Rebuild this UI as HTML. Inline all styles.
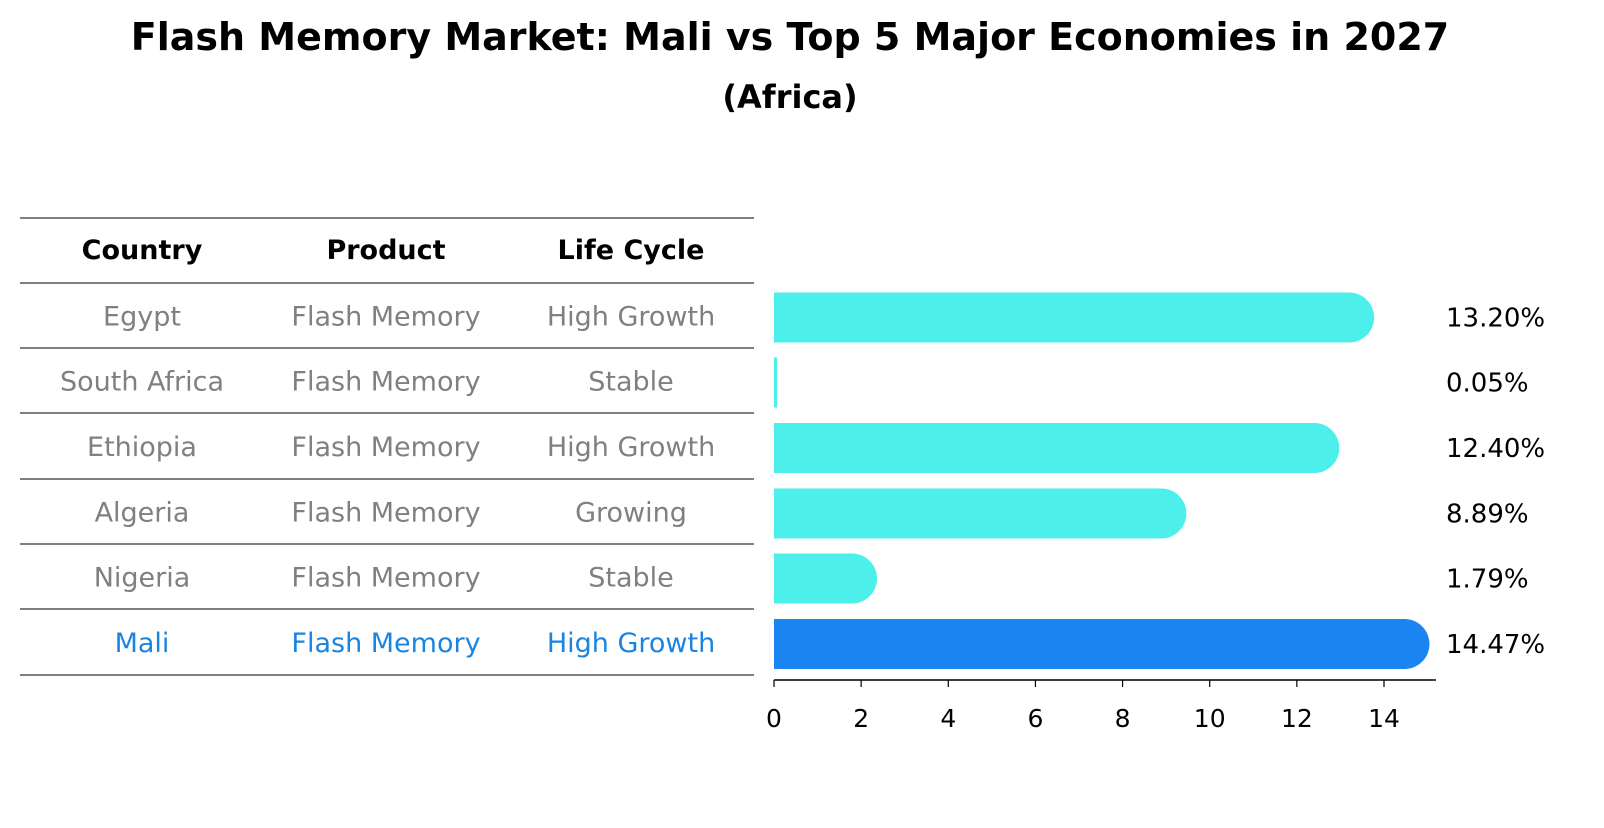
<!DOCTYPE html>
<html><head><meta charset="utf-8"><style>
body{margin:0;background:#fff;font-family:"Liberation Sans","DejaVu Sans",sans-serif;}
svg text{font-family:"DejaVu Sans","Liberation Sans",sans-serif;}
</style></head><body>
<svg id="c" width="1604" height="823" xmlns="http://www.w3.org/2000/svg">
<text x="790" y="50" text-anchor="middle" font-size="38" font-weight="bold">Flash Memory Market: Mali vs Top 5 Major Economies in 2027</text>
<text x="790" y="108" text-anchor="middle" font-size="32" font-weight="bold">(Africa)</text>
<g id="tbl"></g>
<g id="bars"></g>
</svg>
<script>
const countries=["Egypt","South Africa","Ethiopia","Algeria","Nigeria","Mali"];
const products=["Flash Memory","Flash Memory","Flash Memory","Flash Memory","Flash Memory","Flash Memory"];
const cycles=["High Growth","Stable","High Growth","Growing","Stable","High Growth"];
const values=[13.20,0.05,12.40,8.89,1.79,14.47];
const ticks=[0,2,4,6,8,10,12,14];
const NS="http://www.w3.org/2000/svg";
function mk(t,a,p){const e=document.createElementNS(NS,t);for(const k in a)e.setAttribute(k,a[k]);p.appendChild(e);return e;}
const x0=774,ppu=610/14;
const xs=v=>x0+v*ppu;
const tbl=document.getElementById('tbl');
const lineYs=[218,283,348,413,479,544,609,675];
lineYs.forEach(y=>{const l=mk('line',{x1:20,x2:754,y1:y,y2:y,stroke:'#000','stroke-width':1},tbl);

});
const cx=[142,386,631];
["Country","Product","Life Cycle"].forEach((h,j)=>{const t=mk('text',{x:cx[j],y:259,'text-anchor':'middle','font-size':27,'font-weight':'bold'},tbl);t.textContent=h;

});
countries.forEach((c,i)=>{const col=i===countries.length-1?'#1a85e0':'#808080';
[c,products[i],cycles[i]].forEach((s,j)=>{const t=mk('text',{x:cx[j],y:(lineYs[i+1]+lineYs[i+2])/2+10,'text-anchor':'middle','font-size':27,fill:col},tbl);t.textContent=s;

});});
const bars=document.getElementById('bars');
const h=50,r=25;
values.forEach((v,i)=>{const yc=(lineYs[i+1]+lineYs[i+2])/2+2;const col=i===values.length-1?'#1a85f0':'#4cefe9';
const xe=xs(v);let d;
if(v*ppu<5){d=`M${x0},${yc-h/2}H${x0+Math.max(3,v*ppu)}V${yc+h/2}H${x0}Z`;}else{d=`M${x0},${yc-h/2}H${xe}A${r},${r} 0 0 1 ${xe},${yc+h/2}H${x0}Z`;}
const p=mk('path',{d:d,fill:col},bars);


const t=mk('text',{x:1446,y:yc+9,'font-size':26},bars);t.textContent=v.toFixed(2)+'%';

});
const ax=mk('line',{x1:x0,x2:1436,y1:680,y2:680,stroke:'#000','stroke-width':1.5},bars);


ticks.forEach(tv=>{const x=xs(tv);const l=mk('line',{x1:x,x2:x,y1:680,y2:687,stroke:'#000','stroke-width':1.2},bars);


const t=mk('text',{x:x,y:727,'text-anchor':'middle','font-size':25},bars);t.textContent=tv;

});
</script>
</body></html>
